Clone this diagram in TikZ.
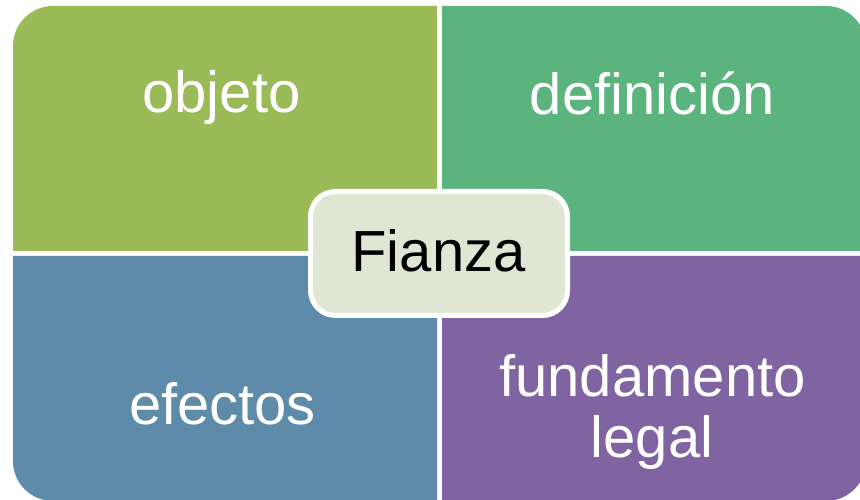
\documentclass[tikz,border=0pt]{standalone}
\usepackage{fontspec}
\setmainfont{Liberation Sans}
\definecolor{qolive}{RGB}{155,187,89}
\definecolor{qgreen}{RGB}{91,180,126}
\definecolor{qblue}{RGB}{94,139,169}
\definecolor{qpurple}{RGB}{128,100,162}
\definecolor{qcenter}{RGB}{223,231,212}
\tikzset{
  qlabel/.style={text=white, anchor=base, inner sep=0pt, font=\fontsize{58}{63}\selectfont},
  centerbox/.style={fill=qcenter, draw=white, line width=5pt, rounded corners=25pt},
}
\begin{document}
\begin{tikzpicture}[x=1pt,y=1pt]
\useasboundingbox (0,0) rectangle (860,500);
\begin{scope}
\clip (0,0) rectangle (860,500);
\fill[qolive] (437,249) -- (13,249) -- (13,454) arc[start angle=180,end angle=90,radius=40] -- (437,494) -- cycle;
\fill[qgreen] (442,249) -- (442,494) -- (826,494) arc[start angle=90,end angle=0,radius=40] -- (866,249) -- cycle;
\fill[qblue] (13,244) -- (437,244) -- (437,-1) -- (53,-1) arc[start angle=270,end angle=180,radius=40] -- cycle;
\fill[qpurple] (442,244) -- (866,244) -- (866,39) arc[start angle=0,end angle=-90,radius=40] -- (442,-1) -- cycle;
\end{scope}
\node[qlabel] (objeto) at (221.5,387) {objeto};
\node[qlabel] (definicion) at (652.5,385) {definición};
\node[qlabel] (efectos) at (222.5,75) {efectos};
\node[qlabel] (fundamento) at (652.5,103) {fundamento};
\node[qlabel] (legal) at (652,42) {legal};
\draw[centerbox] (310.5,184.5) rectangle (567.5,308.5);
\node[anchor=base, inner sep=0pt, font=\fontsize{58}{63}\selectfont] (fianza) at (438.5,228) {Fianza};
\end{tikzpicture}
\end{document}
